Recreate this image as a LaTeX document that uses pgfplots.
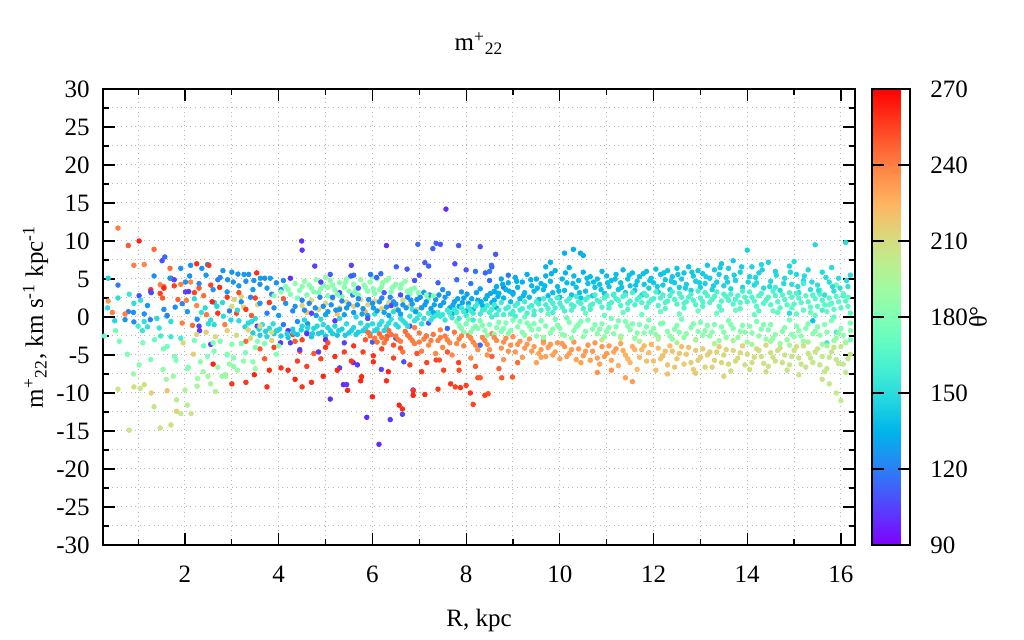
\documentclass[border=0pt]{standalone}
\usepackage{fontspec}
\setmainfont{Liberation Serif}
\usepackage{pgfplots}
\usepackage{pgfplotstable}
\pgfplotsset{compat=1.18}

\pgfplotstableread{
R y t
0.57 11.7 240
0.79 9.4 250
1.02 10.0 262
1.34 8.9 245
1.57 7.9 115
1.51 7.4 108
0.91 6.8 240
1.13 6.9 238
1.68 6.4 245
1.91 6.4 125
2.12 6.8 125
2.25 7.0 260
2.36 6.4 125
2.48 6.9 125
2.51 6.8 258
2.81 6.1 125
0.36 5.1 145
0.57 4.2 120
1.34 5.4 125
1.47 4.25 240
1.55 4.0 245
1.77 4.1 255
1.70 5.1 262
1.27 3.6 258
1.28 3.2 110
1.77 4.9 105
1.68 5.1 125
2.01 4.6 125
1.91 4.3 240
2.12 4.6 238
2.74 3.9 260
2.91 4.9 125
3.03 4.6 125
2.70 4.9 120
0.36 2.1 235
0.57 2.5 150
0.81 3.0 155
0.91 1.8 150
1.13 -0.6 152
1.09 -1.8 155
0.79 0.7 120
0.72 -0.35 125
0.91 -0.65 122
1.13 0.4 125
1.26 -0.35 120
0.72 0.4 240
1.02 2.8 108
1.27 3.3 105
1.47 3.1 255
1.55 3.8 262
1.52 2.5 250
1.85 2.3 248
1.61 0.1 150
1.45 -1.45 155
1.48 -2.5 158
1.70 -2.6 155
1.91 -2.8 158
1.79 1.3 125
1.94 1.75 122
2.05 0.7 128
1.62 0.2 120
2.26 -0.3 125
1.94 -0.8 240
2.16 -1.1 245
2.25 1.5 238
2.46 0.3 242
2.03 2.2 240
2.01 3.3 105
2.08 3.35 102
2.30 -1.2 105
2.31 -1.8 102
2.43 1.2 150
2.55 -0.4 152
2.62 -1.0 150
2.63 1.9 148
2.80 1.9 150
2.40 2.8 245
2.58 2.0 262
2.70 0.5 258
2.85 -1.0 240
2.95 0.8 120
2.2 3.2 255
1.4 -0.2 150
1.2 1.5 128
1.05 2.2 152
0.5 -0.5 148
0.45 0.6 240
0.52 -1.8 175
0.28 -2.5 172
1.54 -4.2 178
1.62 -3.9 175
1.78 -5.2 180
1.81 -5.7 182
2.05 -6.8 185
2.07 -6.6 180
0.77 -4.9 180
1.02 -6.3 182
1.27 -5.6 178
1.53 -6.9 188
1.75 -7.8 190
1.82 -10.9 200
1.91 -12.7 202
2.05 -11.6 200
2.13 -12.7 205
2.26 -9.1 195
2.27 -8.1 190
2.33 -5.9 185
2.39 -7.2 188
2.49 -7.8 192
2.70 -6.6 185
2.79 -7.8 190
2.85 -7.6 188
0.57 -9.5 205
0.91 -9.2 208
1.04 -9.4 205
1.13 -8.9 210
1.34 -11.8 205
1.47 -14.6 205
1.70 -14.2 208
1.28 -10.0 215
0.81 -14.9 205
1.82 -12.4 215
1.62 -9.7 220
2.48 -5.2 182
2.62 -4.5 180
2.55 -8.8 195
2.65 -9.8 198
2.87 -7.8 192
2.18 -4.9 215
1.96 -3.4 212
1.35 -3.0 172
1.1 -3.4 178
2.4 -3.8 176
2.75 -3.2 178
2.9 -4.9 182
0.9 -7.5 190
1.6 -8.2 195
2.0 -9.6 198
3.13 5.65 125
3.26 5.6 128
3.36 5.6 125
3.53 5.8 260
3.47 4.8 125
3.61 5.1 128
3.70 5.1 125
3.82 5.1 130
4.25 5.1 100
4.49 10.0 100
4.50 8.8 102
4.77 6.7 105
3.05 2.3 215
3.2 2.7 212
3.0 1.4 210
3.25 1.3 215
3.55 1.6 212
3.1 0.5 255
3.3 1.0 258
3.42 0.2 250
3.15 -0.5 150
3.35 -0.8 148
3.5 -0.2 150
3.65 -1.0 152
3.8 -1.5 150
3.95 -1.8 148
3.45 -2.1 145
3.6 -2.4 145
3.75 -2.6 148
3.9 -2.2 145
4.05 -2.5 145
4.2 -2.7 142
3.2 2.0 125
3.4 2.6 122
3.6 1.8 125
3.75 0.5 120
3.9 1.2 125
4.0 0.2 128
4.15 1.8 125
4.3 0.8 122
4.4 -0.6 125
4.1 -1.0 118
3.85 3.0 122
4.05 3.6 125
3.54 -1.2 105
2.55 -3.6 105
4.04 -3.4 102
4.25 -3.4 105
3.48 -7.6 262
3.75 -9.2 260
3.0 -8.8 258
3.9 -4.0 255
4.05 -6.7 258
4.4 -5.8 255
4.45 -4.5 252
4.2 -7.0 260
4.6 -6.5 255
4.75 -4.8 250
4.9 -5.5 255
4.35 -3.2 250
3.6 -4.2 248
3.3 -3.2 245
3.7 -5.5 250
2.9 -5.0 180
3.04 -5.4 182
3.29 -4.7 178
3.04 -6.5 185
3.12 -7.0 190
3.45 -5.9 185
3.2 -3.5 178
3.55 -3.2 182
3.85 -3.1 215
3.4 -2.8 212
3.95 -4.9 182
3.9 2.8 182
4.05 3.3 185
4.15 4.0 182
4.25 3.0 180
4.35 4.4 185
4.45 3.5 182
4.55 4.7 185
4.6 2.9 180
4.7 3.8 182
4.8 4.9 185
4.85 3.2 180
4.95 4.2 182
5.05 2.8 180
5.1 4.8 185
5.2 3.6 182
5.3 4.5 183
5.35 2.7 180
5.45 5.0 185
5.5 3.4 182
5.6 4.3 183
5.7 2.9 180
5.75 4.9 185
5.85 3.9 183
5.95 4.6 185
6.05 3.1 180
6.1 5.0 186
6.2 4.0 184
6.3 4.8 185
6.4 3.3 182
6.5 4.3 183
6.6 3.8 182
6.7 4.7 185
6.8 3.0 180
6.9 3.8 182
7.0 2.6 180
7.1 3.3 182
7.2 2.4 180
4.4 2.5 178
4.65 4.2 183
4.9 3.7 183
5.15 4.2 184
5.4 3.9 183
5.65 3.6 182
5.9 3.4 182
6.15 3.6 183
6.45 4.0 183
6.75 3.4 182
5.0 5.2 186
5.55 5.3 186
6.0 5.3 186
6.35 5.1 186
4.5 1.5 212
4.7 2.2 210
4.85 1.0 215
5.0 1.8 210
5.15 2.4 208
5.3 1.2 212
5.45 2.0 210
5.6 1.4 215
5.75 2.3 208
5.9 1.6 212
6.05 2.1 210
6.2 1.1 215
6.35 1.9 210
6.5 1.3 212
6.65 2.2 208
6.8 1.5 210
6.95 1.0 215
4.6 0.6 220
5.25 0.4 222
5.85 0.7 225
4.3 -1.6 145
4.4 -2.3 142
4.5 -1.2 148
4.6 -2.0 145
4.7 -2.6 142
4.75 -1.5 148
4.85 -2.2 145
4.95 -1.0 150
5.0 -2.5 142
5.1 -1.8 145
5.2 -1.2 148
5.25 -2.4 142
5.35 -1.6 145
5.45 -0.9 150
5.5 -2.1 145
5.6 -1.4 148
5.7 -2.0 145
5.75 -0.8 150
5.85 -1.5 148
5.95 -2.2 145
6.0 -0.9 150
6.1 -1.6 148
6.2 -0.6 152
6.3 -1.3 150
6.4 -0.3 152
6.5 -1.0 150
6.6 -0.2 152
6.7 -0.8 150
6.8 0.1 155
6.9 -0.5 152
7.0 0.3 155
7.1 -0.2 152
7.2 0.5 155
7.3 0.0 155
7.4 0.6 156
4.55 -0.4 148
4.9 -0.3 150
5.3 -0.2 150
5.65 0.0 150
6.05 0.4 152
6.45 0.7 150
6.85 1.0 155
4.55 0.9 125
4.65 1.8 122
4.8 0.2 128
4.95 1.4 125
5.05 0.7 128
5.15 2.6 120
5.3 1.0 125
5.4 0.3 130
5.5 1.7 125
5.6 0.6 128
5.7 2.4 122
5.8 1.1 125
5.9 0.2 130
6.0 1.8 125
6.1 0.8 128
6.2 2.5 122
6.3 1.3 125
6.35 0.2 130
6.45 2.0 125
6.55 0.9 128
6.65 1.6 125
6.75 2.6 122
6.85 1.7 128
6.95 2.3 125
7.05 1.2 130
7.15 2.0 128
7.25 1.1 130
7.35 2.3 128
7.45 1.5 130
7.55 2.6 128
7.65 1.2 132
7.75 2.0 130
7.85 1.4 132
7.95 2.5 130
8.05 1.8 132
8.15 1.0 135
8.25 2.2 132
8.35 1.5 135
8.45 2.8 132
8.55 1.9 135
8.65 1.2 135
7.1 3.2 125
7.5 3.6 125
7.9 3.3 128
8.3 3.7 130
8.6 3.4 132
7.3 0.6 132
7.7 0.4 135
8.0 0.8 135
7.57 14.2 100
6.97 9.56 115
7.36 9.7 112
7.45 9.56 110
7.29 9.0 112
7.84 9.4 110
8.3 9.25 108
8.63 8.25 110
8.41 5.8 112
8.55 6.6 110
7.76 7.0 108
7.12 7.15 110
7.2 6.7 112
7.0 5.5 108
6.74 6.3 110
6.51 6.6 112
6.18 5.7 115
6.09 5.2 112
5.96 5.6 118
5.6 5.5 115
5.54 5.4 112
5.1 5.6 110
4.9 4.6 105
5.3 3.2 108
5.7 3.8 110
6.25 3.2 112
6.6 2.9 108
6.9 4.8 110
7.4 4.5 112
7.8 4.9 115
8.1 4.4 118
8.5 4.8 115
8.8 3.9 118
9.0 3.2 120
4.7 0.5 105
5.2 -0.5 102
5.9 -0.2 108
6.4 1.5 105
6.8 -1.2 110
7.2 -0.8 112
7.6 -1.5 115
5.0 -3.0 100
5.4 -3.4 105
6.0 -3.3 110
6.5 -2.8 108
5.88 -13.2 100
6.38 -13.5 102
6.14 -16.75 100
6.64 -12.8 105
6.87 -9.6 108
5.59 -6.0 100
5.68 -6.3 102
5.38 -8.9 100
5.45 -8.9 103
6.19 -6.9 105
6.67 -5.9 108
8.3 -3.7 115
7.15 -2.5 110
4.85 -4.6 102
5.1 -10.8 100
5.3 -6.7 105
4.6 -2.2 100
4.45 -4.3 103
4.2 -1.8 100
8.9 5.5 118
8.0 6.2 110
6.3 9.4 100
5.55 6.8 105
6.32 -2.5 250
5.47 -9.65 262
5.77 -7.85 260
5.75 -8.4 262
6.02 -5.1 258
6.02 -5.9 260
6.34 -7.2 262
6.57 -11.6 262
6.64 -12.1 260
6.87 -9.7 258
6.87 -10.3 262
7.12 -10.2 260
7.4 -9.5 258
7.52 -7.0 255
7.67 -8.8 258
7.77 -9.2 255
7.88 -9.3 258
8.0 -9.0 255
8.09 -10.0 258
8.15 -11.5 255
8.25 -8.0 252
8.3 -8.0 250
8.4 -10.3 255
8.47 -10.1 252
8.76 -8.0 250
8.99 -7.9 250
7.16 -6.0 255
7.36 -5.66 255
7.43 -5.66 252
7.84 -6.0 255
7.85 -7.0 252
5.0 -4.0 258
5.2 -5.2 260
5.4 -4.6 255
5.6 -3.8 258
5.8 -4.6 256
5.25 -7.0 262
5.55 -5.8 258
6.2 -4.2 255
6.45 -5.4 255
6.6 -4.1 252
6.8 -6.3 255
6.95 -4.8 252
7.05 -7.2 258
6.3 -8.4 260
6.0 -10.5 262
4.95 -7.8 262
4.7 -8.6 260
4.5 -9.2 258
7.6 -4.6 250
8.2 -6.5 250
8.55 -5.2 248
8.7 -6.8 248
9.1 -6.0 245
5.05 -3.4 252
5.85 -3.0 250
4.3 -2.3 258
4.5 -3.0 255
6.45 -3.7 252
5.9 -2.0 245
6.05 -2.8 242
6.15 -2.2 245
6.25 -3.4 242
6.35 -1.8 245
6.5 -2.5 242
6.6 -3.2 240
6.7 -1.9 245
6.8 -2.7 242
6.9 -3.5 240
7.0 -2.1 242
7.1 -2.9 240
7.2 -3.7 238
7.3 -2.3 242
7.4 -3.1 240
7.5 -4.0 238
7.55 -2.5 240
7.65 -3.4 238
7.75 -2.0 242
7.85 -2.9 240
7.95 -3.8 238
8.05 -2.4 240
8.15 -3.3 238
8.25 -4.3 236
8.35 -2.7 238
8.45 -3.6 236
8.55 -2.2 238
8.65 -3.1 236
8.75 -4.1 235
8.85 -2.8 236
8.95 -3.7 235
9.05 -4.6 233
9.15 -3.2 234
9.25 -4.1 232
9.35 -2.9 233
9.45 -3.9 232
9.55 -4.8 230
9.65 -3.4 232
7.05 -4.5 240
7.35 -4.8 238
7.7 -5.0 238
8.1 -5.4 236
8.45 -5.0 235
8.8 -5.6 234
9.2 -5.3 232
9.5 -6.0 230
6.65 -4.6 242
6.3 -2.9 245
6.9 -1.4 240
7.45 -1.7 238
}\inner

\pgfplotstableread{
R y t
10.29 8.9 135
10.1 8.4 135
10.44 8.4 133
10.5 8.1 135
9.8 7.2 135
9.7 6.6 136
8.54 6.8 115
8.2 6.0 118
8.5 6.0 120
8.6 2.2 135
8.65 4.0 133
8.7 3.1 135
8.75 5.0 132
8.8 2.5 136
8.85 3.6 135
8.9 4.5 134
8.95 2.0 138
9.0 3.0 136
9.05 5.2 133
9.1 3.9 135
9.15 2.4 138
9.2 4.6 135
9.25 3.2 137
9.3 5.6 134
9.35 2.6 138
9.4 4.1 136
9.45 3.4 137
9.5 5.0 135
9.55 2.3 139
9.6 4.4 136
9.65 3.6 138
9.7 5.4 135
9.75 2.8 139
9.8 4.7 137
9.85 3.2 138
9.9 6.1 135
9.95 4.0 137
10.0 2.6 140
10.05 5.0 137
10.1 3.5 139
10.15 4.5 138
10.2 6.5 135
10.25 2.9 140
10.3 5.4 137
10.35 3.9 139
10.4 4.8 138
10.45 2.5 141
10.5 5.9 136
10.55 3.4 140
10.6 4.4 139
10.65 5.3 138
10.7 2.8 141
10.75 3.9 140
10.8 5.0 139
10.85 4.3 140
10.9 6.0 137
10.95 3.1 141
11.0 5.4 139
11.05 4.0 140
11.1 4.8 140
11.15 2.9 142
11.2 5.6 139
11.25 3.6 141
11.3 4.5 140
11.35 6.2 138
11.4 3.2 142
11.45 5.0 140
11.5 4.1 141
11.55 5.8 139
11.6 3.5 142
11.65 4.7 141
11.7 5.3 140
11.75 2.9 143
11.8 4.3 142
11.85 6.0 140
11.9 3.8 143
11.95 5.1 141
12.0 4.5 142
12.05 6.3 140
12.1 3.3 144
12.15 5.6 141
12.2 4.2 143
12.25 4.9 142
12.3 6.1 141
12.35 3.6 144
12.4 5.3 142
12.45 4.5 143
12.5 6.4 141
12.55 3.9 144
12.6 5.0 143
12.65 5.8 142
12.7 4.3 144
12.75 6.6 141
12.8 3.5 145
12.85 5.4 143
12.9 4.7 144
12.95 6.1 142
13.0 3.9 145
13.05 5.7 143
13.1 4.4 145
13.15 6.8 142
13.2 5.1 144
13.25 3.6 146
13.3 6.2 143
13.35 4.6 145
13.4 5.6 144
13.45 7.0 142
13.5 4.1 146
13.55 5.2 145
13.6 6.4 144
13.65 3.7 147
13.7 7.4 143
13.75 4.8 146
13.85 5.9 145
13.9 3.9 147
14.0 8.8 145
14.05 5.3 147
14.1 6.6 146
14.15 4.2 148
14.25 5.8 147
14.35 3.8 149
14.45 7.2 146
14.5 4.7 148
14.6 6.0 147
14.7 3.5 150
14.8 5.1 149
14.9 6.7 147
14.95 4.3 150
15.05 5.6 148
15.1 3.2 151
15.2 4.8 150
15.3 6.2 148
15.35 3.6 151
15.45 9.5 148
15.5 4.2 151
15.6 5.9 149
15.65 2.9 152
15.75 4.6 151
15.85 3.4 152
15.95 5.1 150
16.05 2.8 153
16.1 9.8 150
16.15 4.0 152
16.2 5.5 150
15.7 -3.4 155
15.4 -0.5 140
15.9 -2.0 160
16.2 -3.0 175
14.9 0.5 150
15.2 4.4 160
15.6 0.9 160
14.6 3.9 158
14.2 4.5 150
15.8 6.5 150
15.0 7.3 150
14.3 6.9 148
7.5 0.3 155
7.6 0.9 156
7.7 -0.1 155
7.8 0.6 157
7.9 1.2 156
8.0 0.2 157
8.1 0.8 158
8.2 1.4 157
8.3 0.4 158
8.4 1.0 158
8.5 0.6 159
8.6 1.6 158
8.7 0.9 159
8.8 0.3 160
8.9 1.3 159
9.0 0.7 160
9.1 1.8 159
9.2 1.1 160
9.3 0.5 161
9.4 1.5 160
9.5 2.0 159
9.6 0.9 161
9.7 1.6 160
9.8 2.2 159
9.9 1.2 161
10.0 1.8 160
10.1 0.8 162
10.2 2.4 160
10.3 1.4 161
10.4 2.0 161
10.5 1.1 162
10.6 2.6 160
10.7 1.7 162
10.8 2.2 161
10.9 1.3 163
11.0 2.8 160
11.1 1.9 162
11.2 2.4 161
11.3 1.5 163
11.4 2.9 161
11.5 2.1 162
11.6 1.6 163
11.7 2.6 162
11.8 3.1 160
11.9 1.9 163
12.0 2.4 162
12.1 1.5 164
12.2 2.9 162
12.3 2.1 163
12.4 3.3 161
12.5 1.7 164
12.6 2.6 163
12.7 2.0 164
12.8 3.0 162
12.9 1.6 165
13.0 2.5 163
13.1 3.2 162
13.2 1.9 164
13.3 2.7 163
13.4 1.4 165
13.5 3.0 163
13.6 2.2 164
13.7 1.7 165
13.8 2.8 163
13.9 3.4 162
14.0 2.0 164
14.1 2.6 164
14.2 1.4 166
14.3 3.1 163
14.4 2.2 165
14.5 1.6 166
14.6 2.8 164
14.7 1.2 167
14.8 2.3 165
14.9 3.2 164
15.0 1.7 166
15.1 2.5 165
15.2 0.9 168
15.3 2.0 166
15.4 2.9 165
15.5 1.4 167
15.6 2.2 166
15.7 0.7 168
15.8 1.8 167
15.9 2.7 166
16.0 1.2 167
16.1 2.1 166
16.2 0.5 168
8.15 -0.4 157
8.55 0.0 158
9.05 0.1 160
9.45 0.3 160
9.85 0.6 161
10.25 0.9 162
10.65 1.0 162
11.05 1.2 163
11.45 1.0 164
11.85 1.3 164
12.25 1.1 165
12.65 1.2 165
13.05 1.4 165
13.45 0.9 166
13.85 1.1 166
14.25 0.8 167
14.65 0.6 168
15.05 0.4 168
15.45 0.2 169
15.85 0.0 169
}\outerA

\pgfplotstableread{
R y t
7.8 -0.6 178
7.9 -1.5 180
8.0 -0.9 178
8.1 -2.0 182
8.2 -1.2 180
8.3 -0.5 178
8.4 -1.8 182
8.5 -1.0 180
8.6 -2.3 183
8.7 -0.7 178
8.8 -1.5 181
8.9 -2.2 183
9.0 -0.4 178
9.1 -1.3 181
9.2 -2.0 183
9.3 -0.8 179
9.4 -1.7 182
9.5 -2.5 184
9.6 -0.5 178
9.7 -1.2 181
9.8 -2.1 183
9.9 -0.3 177
10.0 -1.5 182
10.1 -2.4 184
10.2 -0.7 179
10.3 -1.8 182
10.4 -1.0 180
10.5 -2.6 185
10.6 -0.4 178
10.7 -1.6 182
10.8 -2.2 184
10.9 -0.9 180
11.0 -1.9 183
11.1 -0.2 177
11.2 -1.3 181
11.3 -2.5 185
11.4 -0.6 179
11.5 -1.7 182
11.6 -2.8 186
11.7 -1.0 180
11.8 -2.1 184
11.9 -0.4 178
12.0 -1.5 182
12.1 -2.6 185
12.2 -0.8 180
12.3 -1.9 183
12.4 -2.9 186
12.5 -1.1 181
12.6 -0.3 178
12.7 -2.2 184
12.8 -1.4 182
12.9 -3.0 187
13.0 -0.7 179
13.1 -1.8 183
13.2 -2.5 185
13.3 -1.0 181
13.4 -3.1 188
13.5 -2.0 184
13.6 -0.5 179
13.7 -1.5 182
13.8 -2.7 186
13.9 -1.1 181
14.0 -3.3 188
14.1 -2.1 184
14.2 -0.6 179
14.3 -1.6 182
14.4 -2.9 187
14.5 -1.0 180
14.6 -2.3 185
14.7 -3.5 189
14.8 -1.4 182
14.9 -0.4 178
15.0 -2.6 186
15.1 -1.8 183
15.2 -3.2 188
15.3 -0.9 180
15.4 -2.2 184
15.5 -1.3 182
15.6 -3.6 190
15.7 -2.0 184
15.8 -0.5 179
15.9 -2.8 187
16.0 -1.5 182
16.1 -3.3 189
16.2 -0.8 180
9.25 0.0 172
9.75 0.4 172
10.15 -0.1 174
10.55 0.5 172
10.95 0.2 173
11.35 0.6 172
11.75 0.3 173
12.15 0.7 172
12.55 0.4 173
12.95 0.8 172
13.35 0.5 173
13.75 0.9 172
14.15 0.3 173
14.55 0.8 172
14.95 1.2 171
15.35 0.6 172
15.75 1.6 170
16.15 2.6 170
15.55 3.5 168
15.9 4.2 172
16.05 3.1 175
8.25 -1.5 181
8.75 -1.9 182
9.35 -1.2 181
9.85 -1.6 182
10.35 -1.3 181
10.85 -1.6 182
11.45 -1.2 181
11.95 -2.0 183
12.45 -1.6 182
12.95 -1.9 183
13.45 -1.3 181
13.95 -2.0 183
14.45 -1.7 182
14.95 -2.3 184
15.45 -1.9 183
15.95 -2.1 184
9.6 -4.3 232
9.7 -5.2 230
9.8 -3.6 233
9.9 -4.6 231
10.0 -5.5 230
10.1 -3.9 233
10.2 -4.8 231
10.3 -3.3 234
10.4 -4.2 233
10.5 -5.1 232
10.6 -3.7 234
10.7 -4.5 233
10.8 -5.4 231
10.9 -3.9 234
11.0 -4.8 232
11.1 -5.7 229
11.2 -4.2 232
11.3 -3.5 230
11.4 -5.0 226
11.5 -6.0 224
11.6 -4.3 225
11.7 -5.3 222
11.8 -3.8 224
11.9 -4.7 222
12.0 -5.8 220
12.1 -4.1 222
12.2 -5.1 220
12.3 -6.3 218
12.4 -4.5 220
12.5 -5.5 218
12.6 -3.9 221
12.7 -4.9 218
12.8 -6.0 216
12.9 -4.4 218
13.0 -5.3 216
13.1 -6.6 213
13.2 -4.6 216
13.3 -5.7 213
13.4 -3.9 216
13.5 -5.0 212
13.6 -6.2 210
13.7 -4.4 212
13.8 -5.4 210
13.9 -3.8 212
14.0 -4.9 210
14.1 -6.0 208
14.2 -4.2 210
14.3 -5.2 208
14.4 -3.7 210
14.5 -4.7 208
14.6 -5.8 206
14.7 -4.1 208
14.8 -5.0 206
14.9 -6.3 205
15.0 -4.4 207
15.1 -5.4 205
15.2 -3.8 207
15.3 -4.8 205
15.4 -6.0 204
15.5 -4.2 206
15.6 -5.2 204
15.7 -6.8 203
15.8 -4.6 205
15.9 -5.6 203
16.0 -3.9 205
16.1 -7.3 202
16.2 -4.9 204
11.4 -8.0 230
11.55 -8.5 232
11.1 -7.0 234
10.8 -7.3 235
12.3 -7.5 222
12.9 -7.4 218
13.5 -7.8 212
14.4 -7.2 208
15.1 -7.6 205
15.6 -8.2 205
15.9 -10.0 202
16.0 -11.0 200
15.75 -8.8 204
10.9 -3.0 205
11.3 -2.8 200
11.7 -3.2 200
12.1 -2.9 198
12.5 -3.4 198
12.9 -3.0 197
13.3 -3.5 197
13.7 -3.1 196
14.1 -3.6 196
14.5 -3.2 195
14.9 -3.7 195
15.3 -3.3 195
15.7 -3.8 195
16.1 -3.4 194
9.65 -3.1 234
10.05 -3.5 233
10.45 -6.0 230
10.85 -6.2 229
11.25 -6.4 226
11.65 -6.9 222
12.05 -7.0 219
12.45 -6.6 218
12.85 -6.9 215
13.25 -6.6 213
13.65 -7.1 210
14.05 -6.9 208
14.45 -6.5 207
14.85 -7.0 205
15.25 -6.6 204
15.65 -7.2 203
16.05 -6.2 203
}\outerB

\pgfplotstableread{
R y t
7.55 -0.4 154
7.65 0.5 156
7.75 1.0 156
7.85 -0.2 156
7.95 0.7 157
8.05 1.3 157
8.15 0.5 157
8.25 1.8 156
8.35 0.9 158
8.45 1.5 158
8.55 1.0 159
8.65 0.3 159
8.75 1.9 158
8.85 1.1 159
8.95 0.4 160
9.05 1.5 160
9.15 0.9 160
9.25 2.0 159
9.35 1.3 161
9.45 0.8 161
9.55 1.7 160
9.65 2.4 159
9.75 1.1 161
9.85 1.8 161
9.95 2.5 160
10.05 1.3 162
10.15 2.1 161
10.25 1.6 162
10.35 2.7 160
10.45 1.8 162
10.55 2.3 161
10.65 1.5 163
10.75 2.9 161
10.85 2.0 162
10.95 2.5 162
11.05 1.7 163
11.15 3.0 161
11.25 2.2 163
11.35 2.7 162
11.45 1.8 164
11.55 3.2 161
11.65 2.3 163
11.75 1.9 164
11.85 2.8 163
11.95 2.2 164
12.05 3.3 162
12.15 2.5 163
12.25 1.9 165
12.35 2.8 163
12.45 2.3 164
12.55 3.1 163
12.65 1.8 165
12.75 2.6 164
12.85 2.2 164
12.95 3.4 162
13.05 2.0 165
13.15 2.8 164
13.25 2.3 165
13.35 3.3 163
13.45 2.1 165
13.55 2.7 164
13.65 3.0 164
13.75 2.3 165
13.85 1.9 166
13.95 2.6 165
14.05 3.3 164
14.15 2.1 166
14.25 2.8 165
14.35 1.8 166
14.45 2.6 165
14.55 3.4 164
14.65 2.0 166
14.75 2.9 165
14.85 1.6 167
14.95 2.6 166
15.05 3.1 165
15.15 1.9 167
15.25 2.8 166
15.35 1.3 168
15.45 2.4 166
15.55 3.0 165
15.65 1.6 167
15.75 2.5 166
15.85 1.0 168
15.95 2.0 167
16.05 2.9 166
16.15 1.4 168
7.85 -1.1 179
7.95 -2.0 181
8.05 -0.3 177
8.15 -1.5 180
8.35 -1.1 180
8.45 -2.4 183
8.65 -1.4 181
8.85 -0.8 179
8.95 -1.8 182
9.15 -0.6 178
9.25 -2.4 184
9.45 -0.9 180
9.55 -1.6 182
9.65 -2.7 185
9.95 -1.1 181
10.05 -2.3 184
10.25 -2.8 186
10.45 -0.6 179
10.55 -1.9 183
10.75 -1.0 180
10.95 -2.6 185
11.05 -1.4 182
11.15 -2.2 184
11.25 -0.5 178
11.55 -0.9 180
11.65 -2.1 184
11.85 -1.3 181
12.05 -2.3 184
12.15 -0.9 180
12.35 -2.5 185
12.55 -2.0 183
12.65 -2.7 186
12.85 -0.9 180
13.05 -2.4 185
13.15 -1.1 181
13.25 -2.0 184
13.55 -2.7 186
13.65 -1.0 181
13.85 -1.9 183
14.05 -1.2 181
14.25 -2.5 185
14.35 -1.0 180
14.55 -2.8 186
14.75 -1.9 183
14.85 -3.0 187
15.05 -1.2 181
15.15 -2.5 185
15.25 -1.5 182
15.55 -2.4 185
15.65 -1.0 181
15.85 -3.1 188
16.05 -2.4 185
16.2 -1.8 183
9.75 -4.0 232
9.85 -5.0 231
9.95 -3.4 233
10.15 -5.2 231
10.25 -4.3 232
10.35 -5.6 230
10.55 -4.5 232
10.65 -5.7 230
10.75 -3.4 233
10.95 -5.2 231
11.05 -3.8 232
11.15 -4.6 230
11.35 -4.4 227
11.45 -5.5 225
11.55 -3.9 226
11.75 -4.3 223
11.85 -5.8 221
11.95 -3.6 223
12.15 -5.5 220
12.25 -4.5 220
12.35 -3.8 221
12.55 -4.8 219
12.65 -6.2 217
12.75 -4.0 219
12.95 -5.7 216
13.05 -4.2 217
13.15 -5.0 215
13.35 -4.6 214
13.45 -6.0 212
13.55 -4.3 213
13.75 -5.8 210
13.85 -4.7 211
13.95 -6.3 209
14.15 -5.3 209
14.25 -4.4 209
14.35 -6.1 207
14.55 -5.3 207
14.65 -4.4 208
14.75 -6.0 206
14.95 -5.2 206
15.05 -3.9 207
15.15 -6.2 205
15.35 -5.4 205
15.45 -4.6 205
15.55 -6.3 204
15.75 -5.3 204
15.85 -4.0 205
15.95 -6.1 203
16.15 -5.5 203
8.62 3.3 134
8.78 4.3 133
8.92 3.4 135
9.08 4.7 135
9.22 2.8 137
9.38 4.9 135
9.52 3.8 137
9.68 4.1 137
9.82 5.7 135
9.98 3.4 138
10.12 5.8 136
10.28 4.4 138
10.42 3.2 140
10.58 5.1 138
10.72 4.6 139
10.88 3.6 140
11.02 4.5 140
11.18 5.0 139
11.32 3.9 141
11.48 5.5 140
11.62 4.2 141
11.78 5.7 140
11.92 4.8 142
12.08 4.0 143
12.22 5.8 141
12.38 4.7 143
12.52 5.6 142
12.68 3.8 144
12.82 5.9 142
12.98 4.5 144
13.12 5.3 144
13.28 4.1 145
13.42 6.5 143
13.58 4.6 145
13.72 5.5 145
13.88 6.6 144
14.02 4.6 147
14.18 5.2 147
14.32 6.2 146
14.48 4.0 149
14.62 5.5 148
14.78 4.4 149
14.92 5.9 148
15.08 4.0 150
15.22 5.4 149
15.38 4.6 150
15.52 3.5 152
15.68 5.2 150
15.82 4.0 151
15.98 3.8 152
16.12 4.8 151
4.35 1.4 125
4.5 2.2 122
4.62 -0.9 128
4.78 1.2 125
4.88 2.6 120
5.0 0.3 130
5.12 1.6 124
5.22 0.9 127
5.35 2.1 122
5.45 1.2 126
5.58 2.9 120
5.68 1.6 125
5.78 0.4 130
5.92 2.3 123
6.02 1.2 128
6.15 2.0 124
6.25 0.6 130
6.38 2.6 122
6.5 1.7 126
6.6 0.4 130
6.72 1.2 128
6.82 2.2 124
6.92 0.7 130
7.02 2.6 124
7.12 1.6 128
7.22 2.9 124
7.32 1.6 130
7.42 2.9 126
7.52 1.9 130
7.62 3.1 126
7.72 1.6 132
7.82 2.4 130
7.92 1.9 132
8.02 3.0 130
8.12 2.4 133
8.22 3.2 130
8.32 2.0 134
8.42 2.4 134
8.52 3.1 133
8.68 2.7 134
4.32 -2.1 144
4.48 -1.7 146
4.62 -1.4 147
4.72 -2.2 144
4.82 -1.2 148
4.92 -2.0 145
5.05 -1.4 147
5.15 -2.2 144
5.28 -1.8 146
5.42 -2.4 143
5.55 -1.8 146
5.65 -2.3 144
5.8 -1.8 146
5.9 -1.1 149
6.05 -1.8 147
6.15 -1.0 150
6.25 -1.8 147
6.35 -0.8 151
6.55 -1.3 149
6.65 -0.5 151
6.75 -1.2 150
6.95 -0.2 153
7.05 -0.9 152
7.25 -0.4 153
7.35 0.2 155
7.45 0.1 155
4.2 3.6 183
4.5 4.0 184
4.75 3.3 182
5.05 3.9 183
5.25 3.0 181
5.42 4.5 185
5.62 3.2 181
5.82 4.2 184
6.02 3.7 183
6.22 4.5 185
6.42 3.8 183
6.62 4.3 184
6.82 3.6 182
6.98 3.2 181
7.15 2.9 181
7.3 2.8 180
5.95 -2.5 244
6.1 -3.3 243
6.2 -2.7 244
6.4 -2.3 244
6.55 -3.0 242
6.75 -2.4 243
6.85 -3.1 241
7.0 -3.3 240
7.15 -2.5 241
7.25 -3.1 240
7.45 -2.7 240
7.6 -3.0 239
7.8 -3.5 238
7.9 -2.5 239
8.1 -2.8 238
8.2 -3.7 237
8.4 -3.1 237
8.5 -4.3 235
8.6 -2.7 237
8.8 -3.3 236
8.9 -4.5 234
9.0 -2.6 236
9.1 -3.6 234
9.3 -3.6 233
9.4 -4.5 232
9.6 -5.3 230
2.1 5.4 125
2.3 4.4 122
2.45 5.5 128
2.6 3.6 125
2.75 5.2 122
2.9 3.3 128
3.0 5.9 125
3.15 4.1 128
3.3 4.7 125
3.45 3.6 128
3.6 4.3 125
3.75 3.8 128
3.95 4.5 125
4.1 4.8 122
2.2 2.4 150
2.35 0.6 152
2.5 -0.9 150
2.68 1.4 148
2.82 0.1 150
2.98 -0.4 148
3.12 0.9 150
3.28 -1.3 148
3.42 -0.6 150
3.58 -1.6 146
3.72 -1.9 146
3.88 -0.9 150
4.02 -1.6 146
4.18 -2.2 144
2.25 -2.3 212
2.45 -2.0 215
2.65 -2.6 210
2.9 -1.8 215
3.1 -2.4 212
3.35 -1.7 215
3.6 -1.2 212
3.85 -2.0 210
2.3 3.8 250
2.55 4.2 255
2.9 2.6 258
3.15 3.2 252
3.5 2.5 255
3.8 1.9 258
4.1 2.4 250
2.6 -6.2 262
3.3 -8.6 258
3.8 -7.0 260
4.35 -8.2 262
2.2 -3.1 178
2.6 -3.4 180
3.0 -3.6 180
3.5 -4.0 182
3.7 -3.5 180
4.0 -3.8 182
3.25 -5.8 186
2.95 -6.2 188
3.5 -6.8 190
1.0 -1.2 160
0.6 -3.2 175
0.35 1.2 150
0.9 0.6 125
1.2 -1.3 152
1.55 1.0 125
1.7 -0.6 150
}\fill

\pgfplotsset{
  colormap={gprainbow}{rgb=(0.5,0,1) rgb=(0.375,0.195,0.995) rgb=(0.25,0.383,0.981)
    rgb=(0.125,0.556,0.957) rgb=(0,0.707,0.924) rgb=(0.125,0.831,0.882)
    rgb=(0.25,0.924,0.831) rgb=(0.375,0.981,0.773) rgb=(0.5,1,0.707)
    rgb=(0.625,0.981,0.634) rgb=(0.75,0.924,0.556) rgb=(0.875,0.831,0.471)
    rgb=(1,0.707,0.383) rgb=(1,0.556,0.290) rgb=(1,0.383,0.195)
    rgb=(1,0.195,0.098) rgb=(1,0,0)},
  dots/.style={scatter, only marks, mark=*, mark size=1.15pt, point meta=explicit,
    scatter/use mapped color={draw=mapped color, fill=mapped color}},
}

\begin{document}
\begin{tikzpicture}[font=\fontsize{12.5}{15}\selectfont]
\useasboundingbox (-51.5pt,-47.5pt) rectangle (460.5pt,272.5pt);
\begin{axis}[
  at={(0pt,0pt)}, anchor=south west,
  width=376pt, height=228pt, scale only axis,
  xmin=0.25, xmax=16.3, ymin=-30, ymax=30,
  xtick={2,4,6,8,10,12,14,16},
  xticklabels={2,4,6,8,10,12,14,16},
  minor xtick={1,3,5,7,9,11,13,15},
  ytick={-30,-25,-20,-15,-10,-5,0,5,10,15,20,25,30},
  yticklabels={-30,-25,-20,-15,-10,-5,0,5,10,15,20,25,30},
  minor ytick={-27.5,-22.5,-17.5,-12.5,-7.5,-2.5,2.5,7.5,12.5,17.5,22.5,27.5},
  grid=both,
  major grid style={gray!55, line width=0.5pt, dash pattern=on 0.5pt off 1.8pt},
  minor grid style={gray!55, line width=0.5pt, dash pattern=on 0.5pt off 1.8pt},
  tick align=inside,
  major tick length=6pt, minor tick length=3pt,
  tick style={black, line width=0.6pt},
  axis line style={black, line width=0.6pt},
  xticklabel style={anchor=base, yshift=-19pt},
  yticklabel style={anchor=east, inner sep=0pt, xshift=-6.5pt},
  title={m\textsuperscript{+}\textsubscript{22}},
  title style={at={(axis description cs:0.5,1)}, anchor=base, yshift=13pt},
  xlabel={R, kpc},
  xlabel style={at={(axis description cs:0.5,0)}, anchor=base, yshift=-41pt},
  ylabel={m\textsuperscript{+}\textsubscript{22}, km s\textsuperscript{-1} kpc\textsuperscript{-1}},
  ylabel style={at={(axis description cs:-0.0798,0.5)}, anchor=base, rotate=0},
  colormap name=gprainbow,
  point meta min=90, point meta max=270,
  colorbar,
  colorbar style={
    at={(parent axis.north east)}, anchor=north west,
    scale only axis, width=19pt, height=228pt,
    ytick={90,120,150,180,210,240,270},
    yticklabels={90,120,150,180,210,240,270},
    ytick pos=both, yticklabel pos=right,
    tick align=inside, major tick length=6pt,
    tick style={black, line width=0.6pt},
    axis line style={black, line width=0.6pt},
    yticklabel style={anchor=west, inner sep=0pt, xshift=10pt},
    ylabel={θ°},
    ylabel style={at={(axis description cs:2.79,0.5)}, anchor=center, rotate=0},
  },
]
\addplot[dots] table[x=R, y=y, meta=t] {\inner};
\addplot[dots] table[x=R, y=y, meta=t] {\outerA};
\addplot[dots] table[x=R, y=y, meta=t] {\outerB};
\addplot[dots] table[x=R, y=y, meta=t] {\fill};
\end{axis}
\end{tikzpicture}
\end{document}
